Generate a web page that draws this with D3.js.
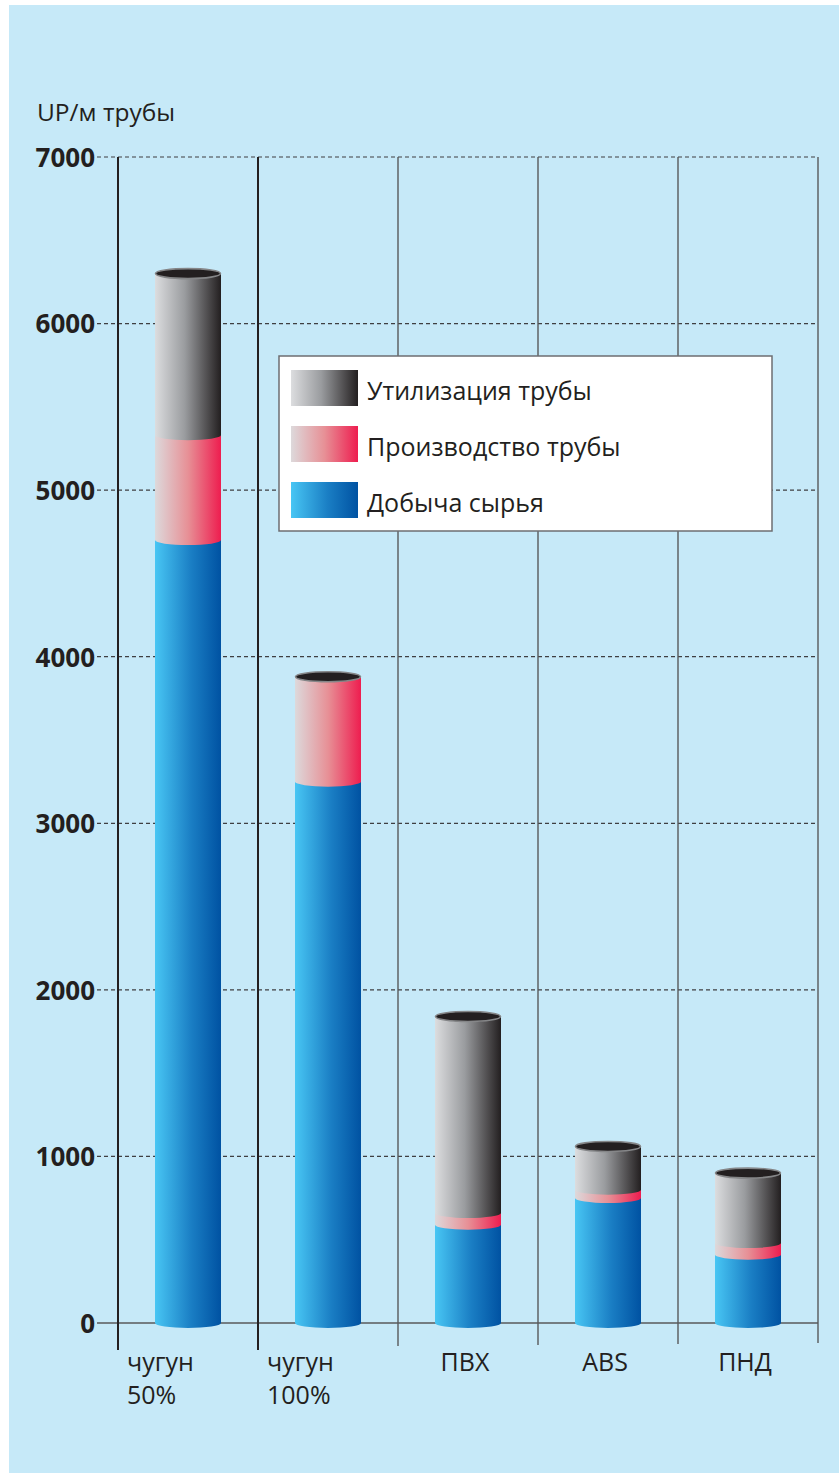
<!DOCTYPE html>
<html>
<head>
<meta charset="utf-8">
<script src="https://cdn.jsdelivr.net/npm/d3@7"></script>
<style>
  html, body { margin: 0; padding: 0; background: #ffffff; }
  svg { display: block; }
  text { font-family: "Open Sans", "Noto Sans", sans-serif; fill: #231f20; }
</style>
</head>
<body>
<svg id="chart" width="839" height="1473"></svg>
<script>
// Pipe materials and their life-cycle environmental load, UP per metre of pipe
const categories = ["чугун 50%", "чугун 100%", "ПВХ", "ABS", "ПНД"];
const categoryLines = [["чугун", "50%"], ["чугун", "100%"], ["ПВХ"], ["ABS"], ["ПНД"]];
const rawMaterial = [4700, 3250, 590, 750, 410];   // Добыча сырья
const production  = [630, 630, 70, 50, 70];        // Производство трубы
const disposal    = [970, 0, 1180, 260, 420];      // Утилизация трубы
const yTicks = [0, 1000, 2000, 3000, 4000, 5000, 6000, 7000];
const seriesNames = ["Утилизация трубы", "Производство трубы", "Добыча сырья"];

const svg = d3.select("#chart");
const ink = "#231f20";

// panel background
svg.append("rect").attr("x", 9).attr("y", 5).attr("width", 830).attr("height", 1468)
  .attr("fill", "#c6e9f8");

// gradients for the cylinder segments
const defs = svg.append("defs");
function grad(id, stops) {
  const g = defs.append("linearGradient").attr("id", id)
    .attr("x1", "0%").attr("x2", "100%").attr("y1", "0%").attr("y2", "0%");
  stops.forEach(([o, c]) => g.append("stop").attr("offset", o).attr("stop-color", c));
}
grad("gDisposal", [["0%", "#dcdddf"], ["45%", "#9a9c9f"], ["100%", "#231f20"]]);
grad("gProduction", [["0%", "#ddd9db"], ["50%", "#e79096"], ["100%", "#ee1d4f"]]);
grad("gRaw", [["0%", "#48c6f4"], ["55%", "#1a7ec4"], ["100%", "#0052a2"]]);
const fills = ["url(#gDisposal)", "url(#gProduction)", "url(#gRaw)"];

const y = d3.scaleLinear().domain([0, 7000]).range([1323, 157]);
const x = d3.scaleBand().domain(categories).range([118, 818]).padding(0);

// horizontal grid (dashed) and the zero baseline
const gridX0 = 97, gridX1 = 818;
svg.append("g").selectAll("line").data(yTicks.filter(t => t > 0)).join("line")
  .attr("x1", gridX0).attr("x2", gridX1)
  .attr("y1", d => y(d)).attr("y2", d => y(d))
  .attr("stroke", "#3f3f41").attr("stroke-width", 1.2)
  .attr("stroke-dasharray", "4,3");
svg.append("line").attr("x1", gridX0).attr("x2", gridX1)
  .attr("y1", y(0)).attr("y2", y(0))
  .attr("stroke", "#58595b").attr("stroke-width", 1.6);

// column separators
const seps = categories.map(c => x(c)).concat([x.range()[1]]);
svg.append("g").selectAll("line").data(seps).join("line")
  .attr("x1", d => d).attr("x2", d => d)
  .attr("y1", y(7000))
  .attr("y2", (d, i) => i < 2 ? 1350 : 1346 - (i - 2))
  .attr("stroke", (d, i) => i < 2 ? ink : "#58595b")
  .attr("stroke-width", (d, i) => i < 2 ? 2 : 1.4);

// y tick labels
const yAxis = d3.axisLeft(y).tickValues(yTicks).tickSize(0).tickPadding(0).tickFormat(d3.format("d"));
const ya = svg.append("g").attr("transform", "translate(95,0)").call(yAxis);
ya.select(".domain").remove();
ya.selectAll("text")
  .attr("font-family", "'Open Sans', sans-serif")
  .attr("font-size", 26).attr("font-weight", 700)
  .attr("fill", ink).attr("dy", "0.36em");

// unit label
svg.append("text").attr("x", 37).attr("y", 121)
  .attr("font-size", 24.5).text("UP/м трубы");

// stacked cylinders
const barW = 66, ry = 5;
const stacks = categories.map((c, i) => {
  const segs = [];
  let base = 0;
  [[rawMaterial[i], 2], [production[i], 1], [disposal[i], 0]].forEach(([v, s]) => {
    if (v > 0) { segs.push({ c, y0: base, y1: base + v, s }); base += v; }
  });
  return { c, total: base, segs };
});

function segPath(d) {
  const cx = x(d.c) + x.bandwidth() / 2;
  const x0 = cx - barW / 2, x1 = cx + barW / 2;
  const yt = y(d.y1), yb = y(d.y0);
  return `M${x0},${yt}L${x1},${yt}L${x1},${yb}A${barW / 2},${ry} 0 0 1 ${x0},${yb}Z`;
}

const bars = svg.append("g").selectAll("g").data(stacks).join("g");
bars.selectAll("path").data(d => d.segs).join("path")
  .attr("d", segPath)
  .attr("fill", d => fills[d.s]);
bars.append("ellipse")
  .attr("cx", d => x(d.c) + x.bandwidth() / 2)
  .attr("cy", d => y(d.total))
  .attr("rx", barW / 2 - 0.5).attr("ry", ry)
  .attr("fill", ink).attr("stroke", "#858688").attr("stroke-width", 1.6);

// category labels
const labels = svg.append("g").selectAll("text").data(categories).join("text")
  .attr("font-size", 25)
  .attr("text-anchor", (d, i) => categoryLines[i].length > 1 ? "start" : "middle")
  .attr("transform", (d, i) => {
    const lx = categoryLines[i].length > 1 ? x(d) + 9 : x(d) + x.bandwidth() / 2 - 3;
    return `translate(${lx},1371)`;
  });
labels.selectAll("tspan").data((d, i) => categoryLines[i]).join("tspan")
  .attr("x", 0).attr("y", (d, j) => j * 33)
  .text(d => d);

// legend
const lg = svg.append("g").attr("transform", "translate(279,356)");
lg.append("rect").attr("width", 493).attr("height", 175)
  .attr("fill", "#ffffff").attr("stroke", "#6d6e71").attr("stroke-width", 1.5);
const items = lg.selectAll("g").data(seriesNames).join("g")
  .attr("transform", (d, i) => `translate(12,${14 + i * 56})`);
items.append("rect").attr("width", 67).attr("height", 36).attr("fill", (d, i) => fills[i]);
items.append("text").attr("x", 76).attr("y", 30).attr("font-size", 25).text(d => d);
</script>
</body>
</html>
